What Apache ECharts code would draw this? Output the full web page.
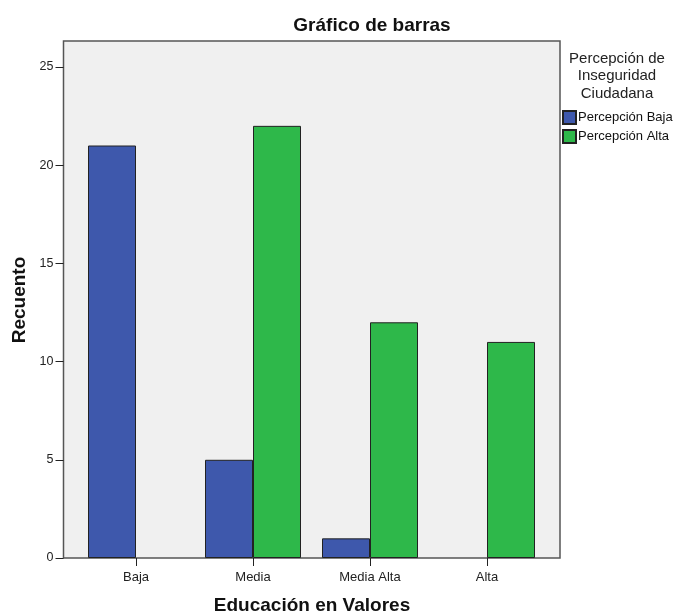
<!DOCTYPE html>
<html>
<head>
<meta charset="utf-8">
<script src="https://cdn.jsdelivr.net/npm/echarts@6/dist/echarts.min.js"></script>
<style>html,body{margin:0;padding:0;background:#fff}#c{width:676px;height:614px}</style>
</head>
<body>
<div id="c"></div>
<script>
const categories = ['Baja', 'Media', 'Media Alta', 'Alta'];
const seriesNames = ['Percepción Baja', 'Percepción Alta'];
const percepcionBaja = [21, 5, 1, 0];
const percepcionAlta = [0, 22, 12, 11];
const yTicks = [0, 5, 10, 15, 20, 25];

const FONT = '"Liberation Sans", Arial, sans-serif';
const chart = echarts.init(document.getElementById('c'), null, {renderer: 'canvas'});

const gLeft = 77.5, gRight = 545.5, gTop = 41, gBottom = 558;
const frameL = 63.5, frameR = 560;
const noZero = arr => arr.map(v => (v === 0 ? null : v));

chart.setOption({
  animation: false,
  backgroundColor: '#ffffff',
  textStyle: {fontFamily: FONT},
  legend: {
    orient: 'vertical',
    left: 562, top: 110, padding: 0,
    itemWidth: 13, itemHeight: 13, itemGap: 4,
    icon: 'rect',
    data: seriesNames,
    textStyle: {fontFamily: FONT, fontSize: 13, color: '#111', padding: [0, 0, 0, -3]}
  },
  graphic: [
    {type: 'rect', z: -10, silent: true,
     shape: {x: frameL, y: gTop, width: frameR - frameL, height: gBottom - gTop},
     style: {fill: '#f0f0f0', stroke: '#555', lineWidth: 1.5}},
    {type: 'text', silent: true, x: 372, y: 26,
     style: {text: 'Gráfico de barras', font: 'bold 19px ' + FONT, fill: '#111', textAlign: 'center', textVerticalAlign: 'middle'}},
    {type: 'text', silent: true, x: 617, y: 76,
     style: {text: 'Percepción de\nInseguridad\nCiudadana', font: '15px ' + FONT, fill: '#222',
       lineHeight: 17.5, textAlign: 'center', textVerticalAlign: 'middle'}},
    {type: 'text', silent: true, x: 312, y: 606,
     style: {text: 'Educación en Valores', font: 'bold 19px ' + FONT, fill: '#111', textAlign: 'center', textVerticalAlign: 'middle'}},
    {type: 'text', silent: true, x: 20, y: 300, rotation: Math.PI / 2,
     style: {text: 'Recuento', font: 'bold 19px ' + FONT, fill: '#111', textAlign: 'center', textVerticalAlign: 'middle'}}
  ],
  grid: {left: gLeft, right: 676 - gRight, top: gTop, bottom: 614 - gBottom, containLabel: false},
  xAxis: {
    type: 'category',
    data: categories,
    axisLine: {show: false},
    axisTick: {show: true, alignWithLabel: true, length: 8, lineStyle: {color: '#222'}},
    axisLabel: {fontFamily: FONT, fontSize: 13, color: '#222', margin: 13},
    splitLine: {show: false}
  },
  yAxis: {
    type: 'value',
    min: 0, max: 26.32,
    offset: gLeft - frameL,
    axisLine: {show: false},
    axisTick: {show: true, length: 8, customValues: yTicks, lineStyle: {color: '#222'}},
    axisLabel: {fontFamily: FONT, fontSize: 12.5, color: '#222', margin: 10, customValues: yTicks},
    splitLine: {show: false}
  },
  series: [
    {name: seriesNames[0], type: 'bar', data: noZero(percepcionBaja), barWidth: 48, barGap: '0%',
     itemStyle: {color: '#3e58ac', borderColor: '#222', borderWidth: 1}},
    {name: seriesNames[1], type: 'bar', data: noZero(percepcionAlta), barWidth: 48, barGap: '0%',
     itemStyle: {color: '#2eb84a', borderColor: '#222', borderWidth: 1}}
  ]
});
</script>
</body>
</html>
